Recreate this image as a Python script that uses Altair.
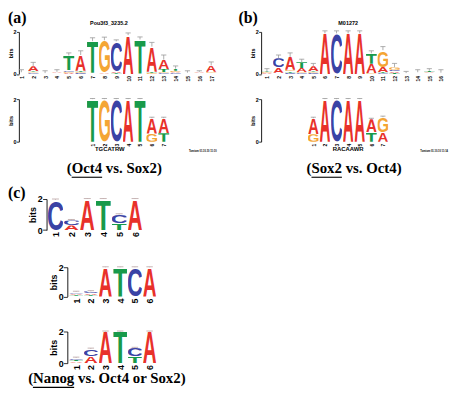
import base64
import altair as alt
import pandas as pd

BASES = ["A", "C", "G", "T"]
COLORS = {"A": "#e8312a", "C": "#3a43a5", "G": "#f4a534", "T": "#189a4a"}

# ---------------- data (information content in bits) ----------------
# (a) top: Pou3f3_3235.2, positions 1..17
a_top_A = [0.02, 0.25, 0.01, 0.03, 0.05, 0.75, 0.02, 0.03, 0.07, 1.85, 0.02, 1.20, 0.45, 0.04, 0.02, 0.03, 0.30]
a_top_C = [0.02, 0.03, 0.01, 0.02, 0.08, 0.05, 0.02, 0.00, 1.45, 0.00, 0.00, 0.00, 0.03, 0.03, 0.01, 0.02, 0.03]
a_top_G = [0.02, 0.04, 0.01, 0.02, 0.05, 0.05, 0.02, 1.55, 0.00, 0.00, 0.00, 0.05, 0.05, 0.08, 0.01, 0.02, 0.05]
a_top_T = [0.02, 0.05, 0.01, 0.03, 0.70, 0.05, 1.50, 0.02, 0.03, 0.00, 1.62, 0.05, 0.15, 0.10, 0.02, 0.03, 0.02]
a_top_err = [0.20, 0.55, 0.15, 0.20, 1.00, 1.10, 1.72, 1.75, 1.62, 1.95, 1.76, 1.50, 0.90, 0.38, 0.15, 0.15, 0.57]

# (a) bottom: TGCATRW (aligned at position 7 of the top logo)
a_bot_A = [0.00, 0.00, 0.00, 2.00, 0.00, 0.72, 0.70]
a_bot_C = [0.00, 0.00, 2.00, 0.00, 0.00, 0.00, 0.00]
a_bot_G = [0.00, 2.00, 0.00, 0.00, 0.00, 0.38, 0.00]
a_bot_T = [2.00, 0.00, 0.00, 0.00, 2.00, 0.00, 0.40]
a_bot_err = [2.03, 2.03, 2.03, 2.03, 2.03, 1.15, 1.15]
a_offset = 6

# (b) top: M01272, positions 1..16
b_top_A = [0.03, 0.25, 0.60, 0.20, 0.25, 1.93, 0.00, 1.93, 1.93, 0.45, 0.25, 0.08, 0.01, 0.02, 0.03, 0.02]
b_top_C = [0.03, 0.45, 0.05, 0.03, 0.04, 0.00, 1.93, 0.00, 0.00, 0.00, 0.03, 0.08, 0.01, 0.02, 0.02, 0.02]
b_top_G = [0.03, 0.03, 0.08, 0.05, 0.04, 0.00, 0.00, 0.00, 0.00, 0.03, 0.80, 0.12, 0.01, 0.02, 0.02, 0.01]
b_top_T = [0.03, 0.02, 0.07, 0.28, 0.04, 0.00, 0.00, 0.00, 0.00, 0.50, 0.05, 0.04, 0.01, 0.02, 0.08, 0.01]
b_top_err = [0.25, 0.90, 1.00, 0.70, 0.50, 2.05, 2.05, 2.05, 2.05, 1.10, 1.30, 0.50, 0.12, 0.20, 0.25, 0.20]

# (b) bottom: RACAAWR (aligned at position 5 of the top logo)
b_bot_A = [0.75, 2.00, 0.00, 2.00, 2.00, 0.60, 0.45]
b_bot_C = [0.00, 0.00, 2.00, 0.00, 0.00, 0.00, 0.00]
b_bot_G = [0.35, 0.00, 0.00, 0.00, 0.00, 0.00, 0.70]
b_bot_T = [0.00, 0.00, 0.00, 0.00, 0.00, 0.45, 0.00]
b_bot_err = [1.15, 2.03, 2.03, 2.03, 2.03, 1.10, 1.20]
b_offset = 4

# (c) Nanog logos, positions 1..6
c1_A = [0.00, 0.30, 2.00, 0.00, 0.00, 2.00]
c1_C = [1.95, 0.32, 0.00, 0.00, 0.55, 0.00]
c1_G = [0.00, 0.00, 0.00, 0.00, 0.00, 0.00]
c1_T = [0.00, 0.00, 0.00, 2.00, 0.45, 0.00]
c1_err = [2.00, 0.68, 2.03, 2.03, 1.05, 2.03]

c2_A = [0.08, 0.12, 2.00, 0.00, 0.00, 2.00]
c2_C = [0.12, 0.14, 0.00, 0.00, 2.00, 0.00]
c2_G = [0.05, 0.04, 0.00, 0.00, 0.00, 0.00]
c2_T = [0.07, 0.05, 0.00, 2.00, 0.00, 0.00]
c2_err = [0.36, 0.40, 2.03, 2.03, 2.03, 2.03]

c3_A = [0.08, 0.44, 2.00, 0.00, 0.00, 2.00]
c3_C = [0.12, 0.46, 0.00, 0.00, 0.50, 0.00]
c3_G = [0.03, 0.00, 0.00, 0.00, 0.00, 0.00]
c3_T = [0.10, 0.00, 0.00, 2.00, 0.45, 0.00]
c3_err = [0.38, 0.95, 2.03, 2.03, 1.00, 2.03]

# ---------------- letter glyphs (stretchable SVG images) ----------------
GLYPH_BOX = {"A": (0.0, -71.6, 72.2, 71.6),
             "C": (4.1, -72.8, 62.8, 74.0),
             "G": (4.3, -72.8, 68.3, 74.0),
             "T": (2.2, -71.6, 56.7, 71.6)}


def letter_url(b):
    x, y, w, h = GLYPH_BOX[b]
    svg = (f'<svg xmlns="http://www.w3.org/2000/svg" width="{w}" height="{h}" '
           f'viewBox="{x} {y} {w} {h}" preserveAspectRatio="none">'
           f'<text x="0" y="0" font-family="Liberation Sans, Arial, Helvetica, sans-serif" '
           f'font-weight="bold" font-size="100" fill="{COLORS[b]}">{b}</text></svg>')
    return "data:image/svg+xml;base64," + base64.b64encode(svg.encode()).decode()


LETTER_URL = {b: letter_url(b) for b in BASES}


def text_layer(txt, x, y, size, align="center", baseline="middle", serif=False):
    return alt.Chart(pd.DataFrame({"t": [txt]})).mark_text(
        align=align, baseline=baseline, fontSize=size,
        font="Liberation Serif" if serif else "Liberation Sans",
        fontWeight="bold", color="black"
    ).encode(x=alt.value(x), y=alt.value(y), text="t:N")


def underline(x1, x2, y):
    return alt.Chart(pd.DataFrame({"t": [0]})).mark_rule(color="black", strokeWidth=1.1).encode(
        x=alt.value(x1), x2=alt.value(x2), y=alt.value(y))


def logo(A, C, G, T, err, offset, domain, width, height, big=False, yoffset=0, extras=()):
    n = len(A)
    rows = []
    for i in range(n):
        h = {"A": A[i], "C": C[i], "G": G[i], "T": T[i]}
        pos = i + 1 + offset
        y = 0.0
        for b in sorted(BASES, key=lambda k: h[k]):
            if h[b] <= 0:
                continue
            rows.append({"x0": pos - 0.47, "x1": pos + 0.47, "y0": y, "y1": y + h[b],
                         "base": b, "url": LETTER_URL[b]})
            y += h[b]
    letters = pd.DataFrame(rows)
    tops = [A[i] + C[i] + G[i] + T[i] for i in range(n)]
    eb = pd.DataFrame({"x": [i + 1 + offset for i in range(n)], "lo": tops, "hi": err,
                       "c0": [i + 1 + offset - 0.22 for i in range(n)],
                       "c1": [i + 1 + offset + 0.22 for i in range(n)]})
    fs = 9 if big else 5
    xs = alt.Scale(domain=domain, nice=False, zero=False)
    ys = alt.Scale(domain=[0, 2], nice=False)
    xaxis = alt.Axis(values=[i + 1 + offset for i in range(n)], labelExpr=f"datum.value - {offset}",
                     labelAngle=270, ticks=False, domain=False, grid=False, title=None,
                     labelFontSize=fs, labelFontWeight="bold", labelPadding=1.5,
                     labelOverlap=False, labelFlush=False, labelBound=False)
    yaxis = alt.Axis(values=[0, 1, 2], format="d", grid=False, title="bits", offset=yoffset,
                     tickSize=4 if big else 2.5, tickWidth=0.8, domainWidth=0.9,
                     labelFontSize=fs if big else 5.5, labelFontWeight="bold", labelPadding=0.3,
                     titleFontSize=fs if big else 5.5, titleFontWeight="bold", titlePadding=0)
    img = alt.Chart(letters).mark_image(aspect=False).encode(
        x=alt.X("x0:Q", scale=xs, axis=xaxis), x2="x1:Q",
        y=alt.Y("y0:Q", scale=ys, axis=yaxis), y2="y1:Q",
        url="url:N")
    ecol = "#b9a3a3" if big else "#9a9a9a"
    bar = alt.Chart(eb).mark_rule(color=ecol, strokeWidth=0.8).encode(
        x=alt.X("x:Q", scale=xs, axis=xaxis), y=alt.Y("lo:Q", scale=ys, axis=yaxis), y2="hi:Q")
    cap = alt.Chart(eb).mark_rule(color=ecol, strokeWidth=0.8).encode(
        x=alt.X("c0:Q", scale=xs, axis=xaxis), x2="c1:Q", y=alt.Y("hi:Q", scale=ys, axis=yaxis))
    return alt.layer(img, bar, cap, *extras).properties(width=width, height=height)


def spacer(w, h):
    return alt.Chart(pd.DataFrame({"t": [""]})).mark_text().encode(
        x=alt.value(0), y=alt.value(0), text="t:N").properties(width=w, height=h)


X0 = 19          # page x of the left column's plot origin
W_A = 264 - X0   # left column width (b panel starts at page x 264)
W_B = 187.7
a_start = 1 - (21.5 - X0) / 12
a_dom = [a_start, a_start + W_A / 12]

a_top = logo(a_top_A, a_top_C, a_top_G, a_top_T, a_top_err, 0, a_dom, W_A, 42.5,
             extras=[text_layer("(a)", 8 - X0, -22, 16, align="left", baseline="top", serif=True),
                     text_layer("Pou3f3_3235.2", 110 - X0, -8.5, 5.5)])
b_top = logo(b_top_A, b_top_C, b_top_G, b_top_T, b_top_err, 0, [0.5, 16.5], W_B, 42.5,
             extras=[text_layer("(b)", -23, -22, 16, align="left", baseline="top", serif=True),
                     text_layer("M01272", 88, -8.5, 5.5)])
a_bot = logo(a_bot_A, a_bot_C, a_bot_G, a_bot_T, a_bot_err, a_offset, a_dom, W_A, 43,
             extras=[text_layer("TGCATRW", 111 - X0, 50.5, 6),
                     text_layer("Tomtom 01.10.10 11:10", 205 - X0, 52.7, 2.6),
                     text_layer("(Oct4 vs. Sox2)", 115.5 - X0, 75, 15, baseline="alphabetic", serif=True),
                     underline(72.4 - X0, 103.2 - X0, 79),
                     text_layer("(c)", 8 - X0, 95, 16, align="left", serif=True)])
b_bot = logo(b_bot_A, b_bot_C, b_bot_G, b_bot_T, b_bot_err, b_offset, [0.5, 16.5], W_B, 43,
             extras=[text_layer("RACAAWR", 88, 50.5, 6),
                     text_layer("Tomtom 01.10.10 11:14", 175, 52.7, 2.6),
                     text_layer("(Sox2 vs. Oct4)", 94, 75, 15, baseline="alphabetic", serif=True),
                     underline(50.9, 81.7, 79)])

# (c) logos: y axis moved into the plot so the logo can start further right
c1_sp, c1_ax, c1_col1 = 16.1, 47, 56
c1_start = 1 - (c1_col1 - X0) / c1_sp
c1_w = (c1_ax - X0) + 98.2
c1 = logo(c1_A, c1_C, c1_G, c1_T, c1_err, 0, [c1_start, c1_start + c1_w / c1_sp], c1_w, 31.4,
          big=True, yoffset=-(c1_ax - X0))
c2_sp, c2_ax, c2_col1 = 14.86, 68, 76.9
c2_start = 1 - (c2_col1 - X0) / c2_sp
c2_w = (c2_ax - X0) + 91.4
c2 = logo(c2_A, c2_C, c2_G, c2_T, c2_err, 0, [c2_start, c2_start + c2_w / c2_sp], c2_w, 29.6,
          big=True, yoffset=-(c2_ax - X0))
c3 = logo(c3_A, c3_C, c3_G, c3_T, c3_err, 0, [c2_start, c2_start + c2_w / c2_sp], c2_w, 32,
          big=True, yoffset=-(c2_ax - X0),
          extras=[text_layer("(Nanog vs. Oct4 or Sox2)", 108 - X0, 52, 15, baseline="alphabetic", serif=True),
                  underline(33.2 - X0, 74.9 - X0, 56.5)])

cells = [
    a_top, b_top, spacer(1, 68),
    a_bot, b_bot, spacer(1, 101),
    c1, spacer(1, 69), spacer(1, 1),
    c2, spacer(1, 65), spacer(1, 1),
    c3, spacer(1, 32), spacer(1, 1),
]

chart = alt.concat(*cells, columns=3, spacing=0, bounds="flush", align="each", padding=0)
chart = chart.configure_view(strokeWidth=0).configure_axis(
    labelFont="Liberation Sans", titleFont="Liberation Sans",
    labelColor="black", titleColor="black", domainColor="black", tickColor="black")

chart.save("out.html", embed_options={"renderer": "svg", "actions": False})
